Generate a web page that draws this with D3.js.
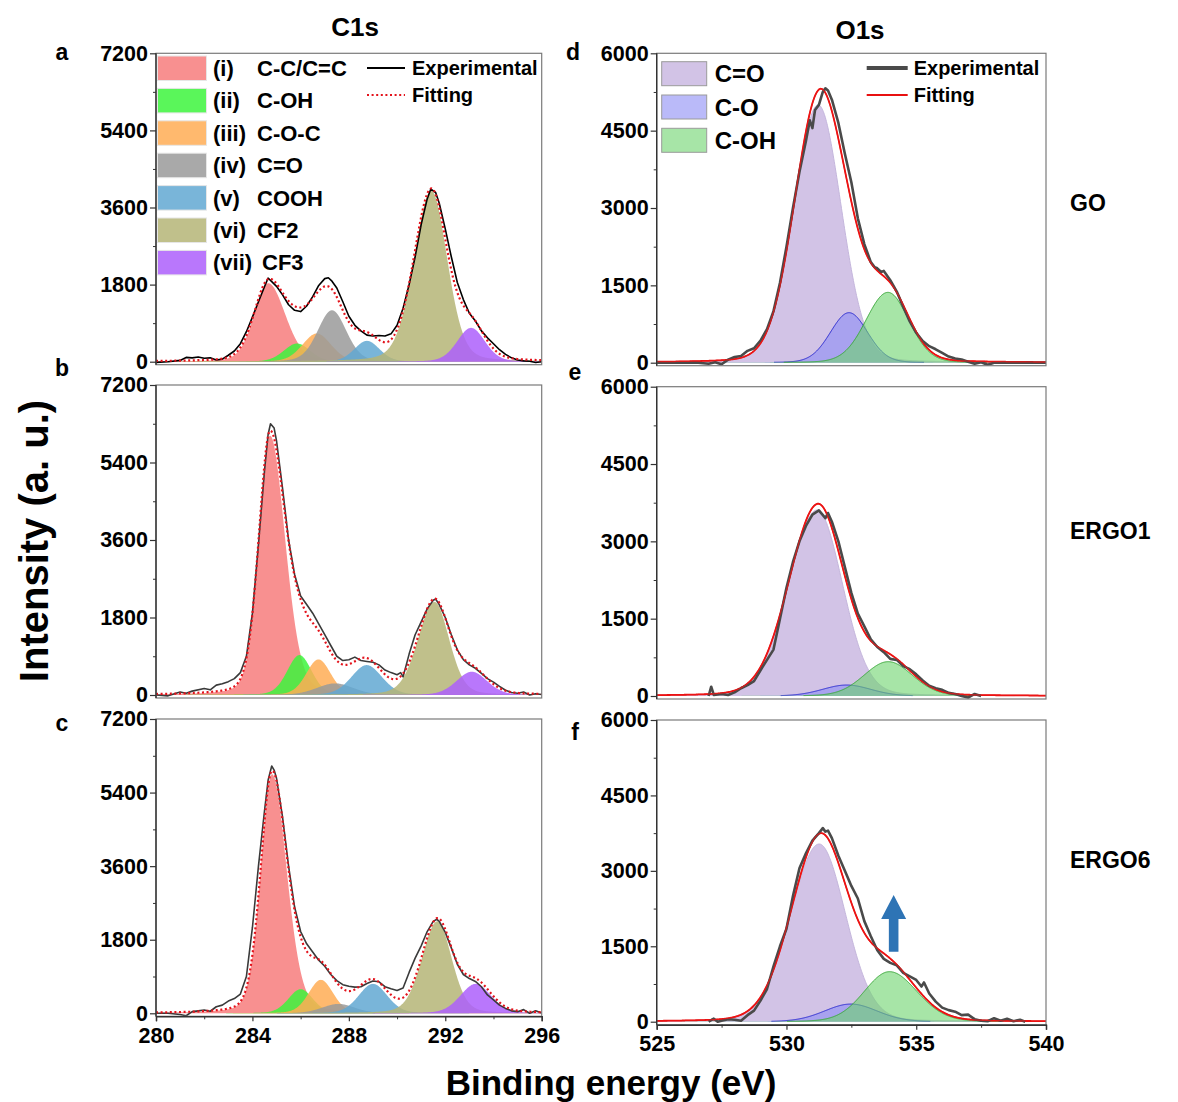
<!DOCTYPE html>
<html><head><meta charset="utf-8">
<script src="https://cdn.jsdelivr.net/npm/d3@7"></script>
<style>
body{margin:0;background:#fff;}
svg{display:block;font-family:'Liberation Sans',Arial,Helvetica,sans-serif;font-weight:bold;}
</style></head><body>
<svg id="fig" width="1178" height="1102"></svg>
<script>
// ---------- categories & ticks ----------
const samples = ['GO', 'ERGO1', 'ERGO6'];
const c1sNumerals = ['(i)', '(ii)', '(iii)', '(iv)', '(v)', '(vi)', '(vii)'];
const c1sLabels = ['C-C/C=C', 'C-OH', 'C-O-C', 'C=O', 'COOH', 'CF2', 'CF3'];
const o1sLabels = ['C=O', 'C-O', 'C-OH'];
const c1sTicksY = [0, 1800, 3600, 5400, 7200];
const o1sTicksY = [0, 1500, 3000, 4500, 6000];
const c1sTicksX = [280, 284, 288, 292, 296];
const o1sTicksX = [525, 530, 535, 540];

// ---------- fitted components: [centre eV, height, left HWHM, right HWHM] ----------
const goC1sPeaks = [
  [284.66, 1830, 0.69, 0.83], [285.85, 425, 0.65, 0.65], [286.67, 660, 0.70, 0.70],
  [287.30, 1200, 0.70, 0.70], [288.75, 487, 0.62, 0.62], [291.42, 3990, 0.85, 0.78],
  [293.07, 790, 0.68, 0.68]];
const ergo1C1sPeaks = [
  [284.73, 6025, 0.55, 0.74], [285.95, 927, 0.60, 0.60], [286.74, 827, 0.60, 0.60],
  [287.43, 270, 0.90, 0.90], [288.74, 695, 0.75, 0.75], [291.55, 2163, 0.80, 0.72],
  [293.10, 540, 0.75, 0.75]];
const ergo6C1sPeaks = [
  [284.81, 5850, 0.55, 0.72], [286.00, 590, 0.60, 0.60], [286.84, 818, 0.60, 0.60],
  [287.57, 229, 0.80, 0.80], [289.00, 720, 0.70, 0.70], [291.67, 2250, 0.75, 0.70],
  [293.26, 720, 0.75, 0.75]];
const goO1sPeaks = [[531.22, 5000, 1.10, 1.05], [532.41, 970, 0.85, 0.85], [533.91, 1364, 1.00, 0.95]];
const ergo1O1sPeaks = [[531.18, 3608, 1.30, 1.15], [532.32, 213, 1.10, 1.10], [533.92, 666, 1.10, 1.10]];
const ergo6O1sPeaks = [[531.26, 3534, 1.30, 1.20], [532.48, 351, 1.20, 1.20], [533.97, 995, 1.15, 1.25]];

// ---------- measured spectra: [eV, counts] ----------
const goC1sExp = [[280,-15],[280.5,0],[281,30],[281.25,100],[281.5,90],[281.75,110],[282,80],[282.25,90],[282.5,40],[282.75,60],[283,150],[283.25,250],[283.5,420],[283.75,700],[284,1040],[284.25,1400],[284.5,1750],[284.65,1950],[284.75,1900],[285,1760],[285.25,1560],[285.5,1330],[285.75,1200],[286,1170],[286.25,1300],[286.5,1520],[286.75,1780],[287,1940],[287.15,1960],[287.3,1880],[287.5,1720],[287.75,1400],[288,1060],[288.25,850],[288.5,720],[288.75,620],[289,600],[289.25,610],[289.5,600],[289.75,650],[290,850],[290.25,1250],[290.5,1800],[290.75,2450],[291,3200],[291.25,3800],[291.4,4030],[291.6,3950],[291.75,3700],[292,3100],[292.25,2450],[292.5,1850],[292.75,1450],[293,1130],[293.25,950],[293.5,720],[293.75,560],[294,420],[294.25,280],[294.5,170],[294.75,90],[295,40],[295.25,20],[295.5,10],[295.75,-20],[296,0]];
const ergo1C1sExp = [[280,0],[280.5,-20],[281,70],[281.25,40],[281.5,90],[282,150],[282.25,120],[282.5,230],[282.75,260],[283,310],[283.25,380],[283.5,520],[283.75,900],[284,1900],[284.25,3500],[284.5,5200],[284.65,6050],[284.75,6300],[284.9,6200],[285,5900],[285.25,4800],[285.5,3600],[285.75,2800],[286,2300],[286.25,2100],[286.5,1900],[286.75,1650],[287,1400],[287.25,1150],[287.5,900],[287.75,800],[288,820],[288.25,880],[288.5,800],[288.75,780],[289,760],[289.25,700],[289.5,580],[289.75,520],[290,470],[290.15,520],[290.25,420],[290.5,950],[290.75,1400],[291,1700],[291.25,2000],[291.5,2200],[291.6,2230],[291.75,2100],[292,1800],[292.25,1400],[292.5,1050],[292.75,820],[293,700],[293.25,620],[293.5,500],[293.75,380],[294,300],[294.25,200],[294.5,110],[294.75,60],[295,40],[295.25,70],[295.5,0],[295.75,30],[296,10]];
const ergo6C1sExp = [[280,0],[280.5,0],[281,-30],[281.25,-60],[281.5,40],[281.75,60],[282,80],[282.25,50],[282.5,160],[282.75,200],[283,300],[283.25,360],[283.5,470],[283.75,900],[284,2100],[284.25,3600],[284.5,4950],[284.65,5700],[284.8,6050],[284.9,5950],[285,5750],[285.25,4800],[285.5,3600],[285.75,2600],[286,2000],[286.25,1700],[286.5,1500],[286.75,1300],[287,1150],[287.25,950],[287.5,800],[287.75,700],[288,660],[288.25,640],[288.5,650],[288.75,730],[289,790],[289.25,770],[289.5,650],[289.75,600],[290,560],[290.25,620],[290.5,1000],[290.75,1350],[291,1650],[291.25,2000],[291.5,2250],[291.65,2300],[291.75,2250],[292,1980],[292.25,1600],[292.5,1200],[292.75,950],[293,850],[293.25,780],[293.5,650],[293.75,450],[294,330],[294.25,200],[294.5,120],[294.75,60],[295,40],[295.25,90],[295.5,0],[295.75,60],[296,10]];
const goO1sExp = [[525,0],[526,0],[526.5,5],[527,-20],[527.25,10],[527.5,-30],[527.75,60],[528,110],[528.25,130],[528.5,230],[528.75,280],[529,430],[529.25,650],[529.5,1000],[529.75,1550],[530,2250],[530.25,3000],[530.5,3700],[530.75,4300],[530.9,4700],[531,4550],[531.1,4900],[531.25,5000],[531.4,5250],[531.5,5320],[531.6,5280],[531.75,5100],[532,4650],[532.25,4050],[532.5,3500],[532.75,2800],[533,2300],[533.25,1950],[533.4,1850],[533.5,1830],[533.65,1760],[533.75,1780],[534,1600],[534.25,1380],[534.5,1080],[534.75,800],[535,580],[535.25,420],[535.5,320],[535.75,260],[536,190],[536.25,120],[536.5,80],[536.75,60],[537,20],[537.25,-20],[537.5,10],[537.75,-40],[538,0],[539,0],[540,0]];
const ergo1O1sExp = [[527,0],[527.1,180],[527.2,20],[527.5,40],[527.75,20],[528,70],[528.25,150],[528.5,210],[528.75,290],[529,500],[529.25,700],[529.5,900],[529.75,1500],[530,2100],[530.25,2600],[530.5,3000],[530.75,3300],[531,3520],[531.25,3600],[531.5,3450],[531.6,3550],[531.75,3380],[532,3000],[532.25,2500],[532.5,2000],[532.75,1600],[533,1350],[533.25,1100],[533.5,950],[533.75,850],[534,720],[534.25,700],[534.5,580],[534.75,520],[535,420],[535.25,300],[535.5,200],[535.75,150],[536,120],[536.25,60],[536.5,40],[536.75,0],[537,-30],[537.25,40],[537.5,0]];
const ergo6O1sExp = [[527,0],[527.2,60],[527.35,0],[527.5,20],[527.75,50],[528,40],[528.25,20],[528.5,130],[528.75,220],[529,420],[529.25,650],[529.5,1100],[529.75,1500],[530,1850],[530.25,2500],[530.5,3050],[530.75,3350],[531,3600],[531.25,3750],[531.4,3850],[531.5,3780],[531.6,3800],[531.75,3650],[532,3300],[532.25,3000],[532.5,2700],[532.75,2450],[533,2000],[533.25,1700],[533.5,1420],[533.75,1250],[534,1170],[534.25,1120],[534.5,970],[534.75,900],[535,830],[535.2,700],[535.3,780],[535.5,560],[535.75,400],[536,280],[536.25,230],[536.5,200],[536.75,130],[537,140],[537.25,50],[537.5,20],[537.75,10],[538,70],[538.25,20],[538.5,60],[538.75,10],[539,40],[539.2,0]];

// ---------- styling ----------
const c1sColors = ['#f77d7d', '#3df53d', '#ffad55', '#9a9a9a', '#62a8d2', '#b5b577', '#ad5ffb'];
const o1sFill = ['#cdbde3', '#8c8cf5', '#6cd46c'];
const o1sStroke = ['#c4b6dc', '#2a2ad0', '#3aa83a'];

const svg = d3.select('#fig');
const FONT_TICK = 21.5;
const FAMILY = "'Liberation Sans',Arial,sans-serif";

// panel frames (pixel layout)
const panels = [
  {key: 'a', kind: 'c1s', peaks: goC1sPeaks,    exp: goC1sExp,    left: 156, right: 541.7, top: 53.3, zero: 361.7, expColor: '#000', legend: true, letterX: 62, letterY: 60},
  {key: 'b', kind: 'c1s', peaks: ergo1C1sPeaks, exp: ergo1C1sExp, left: 156, right: 541.7, top: 385,  zero: 695,   expColor: '#3a3a3a', letterX: 62, letterY: 376},
  {key: 'c', kind: 'c1s', peaks: ergo6C1sPeaks, exp: ergo6C1sExp, left: 156, right: 541.7, top: 719,  zero: 1013.3, expColor: '#3a3a3a', xAxis: true, letterX: 62, letterY: 731},
  {key: 'd', kind: 'o1s', peaks: goO1sPeaks,    exp: goO1sExp,    left: 656.7, right: 1046, top: 53.3, zero: 362.7, legend: true, sample: samples[0], sampleY: 211, letterX: 573, letterY: 60},
  {key: 'e', kind: 'o1s', peaks: ergo1O1sPeaks, exp: ergo1O1sExp, left: 656.7, right: 1046, top: 386.7, zero: 696, sample: samples[1], sampleY: 539, letterX: 575, letterY: 380},
  {key: 'f', kind: 'o1s', peaks: ergo6O1sPeaks, exp: ergo6O1sExp, left: 656.7, right: 1046, top: 720, zero: 1021.7, xAxis: true, sample: samples[2], sampleY: 868, arrow: true, letterX: 575, letterY: 740}
];

// Gaussian–Lorentzian line shape, asymmetric widths
function lineShape(e, p, mix) {
  const [c, h, wl, wr] = p;
  const r = (e - c) / (e < c ? wl : wr);
  return h * ((1 - mix) * Math.exp(-Math.LN2 * r * r) + mix / (1 + r * r));
}

function styleTickText(sel) {
  sel.selectAll('text').attr('font-size', FONT_TICK).attr('font-weight', 'bold')
    .attr('font-family', FAMILY).attr('fill', '#000');
}

panels.forEach(P => {
  const isC = P.kind === 'c1s';
  const xDom = isC ? [280, 296] : [525, 540];
  const yMax = isC ? 7200 : 6000;
  const x = d3.scaleLinear().domain(xDom).range([P.left, P.right]);
  const y = d3.scaleLinear().domain([0, yMax]).range([P.zero, P.top]);
  const bottom = P.zero + 3;
  const mix = isC ? 0.2 : 0.1;
  const g = svg.append('g');

  const clipId = 'clip' + P.key;
  g.append('clipPath').attr('id', clipId).append('rect')
    .attr('x', P.left).attr('y', P.top).attr('width', P.right - P.left).attr('height', bottom - P.top);
  const plot = g.append('g').attr('clip-path', `url(#${clipId})`);

  const grid = d3.range(xDom[0], xDom[1] + 1e-9, 0.02);
  const colors = isC ? c1sColors : o1sFill;

  // component areas
  P.peaks.forEach((p, i) => {
    const pts = grid.map(e => [e, lineShape(e, p, mix)]).filter(d => d[1] > 2);
    plot.append('path').datum(pts)
      .attr('d', d3.area().x(d => x(d[0])).y0(y(0)).y1(d => y(d[1])))
      .attr('fill', colors[i]).attr('fill-opacity', isC ? 0.85 : (i === 0 ? 0.9 : 0.6))
      .attr('stroke', 'none');
    if (!isC) {
      plot.append('path').datum(pts.filter(d => d[1] > 8))
        .attr('d', d3.line().x(d => x(d[0])).y(d => y(d[1])))
        .attr('fill', 'none').attr('stroke', o1sStroke[i]).attr('stroke-width', 1);
    }
  });

  // envelope of the fitted components
  const fit = grid.map(e => [e, d3.sum(P.peaks, p => lineShape(e, p, mix))]);
  const lineGen = d3.line().x(d => x(d[0])).y(d => y(d[1]));

  if (isC) {
    plot.append('path').datum(P.exp).attr('d', lineGen)
      .attr('fill', 'none').attr('stroke', P.expColor).attr('stroke-width', 1.6).attr('stroke-linejoin', 'round');
    plot.append('path').datum(fit).attr('d', lineGen)
      .attr('fill', 'none').attr('stroke', '#e3121b').attr('stroke-width', 2.2)
      .attr('stroke-dasharray', '2,2.6');
  } else {
    plot.append('path').datum(fit).attr('d', lineGen)
      .attr('fill', 'none').attr('stroke', '#e81010').attr('stroke-width', 1.8);
    plot.append('path').datum(P.exp).attr('d', lineGen)
      .attr('fill', 'none').attr('stroke', '#4a4a4a').attr('stroke-width', 2.6).attr('stroke-linejoin', 'round');
    // keep the fitted curve readable above the measured trace
    plot.append('path').datum(fit).attr('d', lineGen)
      .attr('fill', 'none').attr('stroke', '#ee1515').attr('stroke-width', 1.2).attr('stroke-opacity', 0.8);
  }

  // frame
  g.append('rect').attr('x', P.left).attr('y', P.top)
    .attr('width', P.right - P.left).attr('height', bottom - P.top)
    .attr('fill', 'none').attr('stroke', '#7a7a7a').attr('stroke-width', 1.2);
  g.append('line').attr('x1', P.left).attr('x2', P.left).attr('y1', P.top).attr('y2', bottom)
    .attr('stroke', '#333').attr('stroke-width', 1.4);

  // y axis
  const yTicks = isC ? c1sTicksY : o1sTicksY;
  const yMinor = d3.pairs(yTicks).map(([a, b]) => (a + b) / 2);
  const yAx = g.append('g').attr('transform', `translate(${P.left},0)`)
    .call(d3.axisLeft(y).tickValues(yTicks).tickSize(6).tickPadding(2).tickFormat(d3.format('d')));
  g.append('g').attr('transform', `translate(${P.left},0)`)
    .call(d3.axisLeft(y).tickValues(yMinor).tickSize(3).tickFormat(''))
    .call(s => s.select('.domain').remove())
    .selectAll('line').attr('stroke', '#333');
  yAx.select('.domain').remove();
  yAx.selectAll('line').attr('stroke', '#333').attr('stroke-width', 1.2);
  styleTickText(yAx);

  // x axis on the bottom row
  if (P.xAxis) {
    const xTicks = isC ? c1sTicksX : o1sTicksX;
    const xMinor = d3.pairs(xTicks).map(([a, b]) => (a + b) / 2);
    const xAx = g.append('g').attr('transform', `translate(0,${bottom})`)
      .call(d3.axisBottom(x).tickValues(xTicks).tickSize(5).tickPadding(6).tickFormat(d3.format('d')));
    g.append('g').attr('transform', `translate(0,${bottom})`)
      .call(d3.axisBottom(x).tickValues(xMinor).tickSize(3).tickFormat(''))
      .call(s => s.select('.domain').remove())
      .selectAll('line').attr('stroke', '#333');
    xAx.select('.domain').attr('stroke', '#333').attr('stroke-width', 1.4);
    xAx.selectAll('line').attr('stroke', '#333').attr('stroke-width', 1.2);
    styleTickText(xAx);
  }

  // panel letter
  g.append('text').attr('x', P.letterX).attr('y', P.letterY)
    .attr('text-anchor', 'middle').attr('font-size', 23).text(P.key);

  // sample name on the right
  if (P.sample) {
    g.append('text').attr('x', 1070).attr('y', P.sampleY).attr('font-size', 23).text(P.sample);
  }

  // legends in the top row
  if (P.legend && isC) {
    const lg = g.append('g');
    c1sLabels.forEach((lab, i) => {
      const yy = 56 + i * 32.4;
      lg.append('rect').attr('x', P.left + 1.5).attr('y', yy).attr('width', 49).attr('height', 24.5)
        .attr('fill', c1sColors[i]).attr('fill-opacity', 0.85).attr('stroke', '#e6e6e6').attr('stroke-width', 1);
      lg.append('text').attr('x', P.left + 57).attr('y', yy + 20).attr('font-size', 22).text(c1sNumerals[i]);
      lg.append('text').attr('x', P.left + (i === 6 ? 106 : 101)).attr('y', yy + 20).attr('font-size', 22).text(lab);
    });
    lg.append('line').attr('x1', P.left + 211).attr('x2', P.left + 249).attr('y1', 68).attr('y2', 68)
      .attr('stroke', '#000').attr('stroke-width', 1.8);
    lg.append('line').attr('x1', P.left + 211).attr('x2', P.left + 249).attr('y1', 95).attr('y2', 95)
      .attr('stroke', '#e3121b').attr('stroke-width', 2.2).attr('stroke-dasharray', '2,2.6');
    lg.append('text').attr('x', P.left + 256).attr('y', 75).attr('font-size', 20).text('Experimental');
    lg.append('text').attr('x', P.left + 256).attr('y', 102).attr('font-size', 20).text('Fitting');
  }
  if (P.legend && !isC) {
    const lg = g.append('g');
    o1sLabels.forEach((lab, i) => {
      const yy = 61.7 + i * 33.3;
      lg.append('rect').attr('x', P.left + 5).attr('y', yy).attr('width', 45).attr('height', 24)
        .attr('fill', o1sFill[i]).attr('fill-opacity', i === 0 ? 0.9 : 0.6)
        .attr('stroke', '#9a9a9a').attr('stroke-width', 1);
      lg.append('text').attr('x', P.left + 58).attr('y', yy + 20.5).attr('font-size', 24).text(lab);
    });
    lg.append('line').attr('x1', P.left + 210).attr('x2', P.left + 251).attr('y1', 68).attr('y2', 68)
      .attr('stroke', '#4a4a4a').attr('stroke-width', 4);
    lg.append('line').attr('x1', P.left + 210).attr('x2', P.left + 251).attr('y1', 95).attr('y2', 95)
      .attr('stroke', '#e81010').attr('stroke-width', 2);
    lg.append('text').attr('x', P.left + 257).attr('y', 75).attr('font-size', 20).text('Experimental');
    lg.append('text').attr('x', P.left + 257).attr('y', 102).attr('font-size', 20).text('Fitting');
  }

  // upward arrow marking the growth of the C-OH component
  if (P.arrow) {
    const ax = x(534.13), tip = y(2520), base = y(2044), tail = y(1392);
    const hw = 12.5, sw = 4.8;
    g.append('path')
      .attr('d', `M${ax},${tip} L${ax + hw},${base} L${ax + sw},${base} L${ax + sw},${tail} L${ax - sw},${tail} L${ax - sw},${base} L${ax - hw},${base} Z`)
      .attr('fill', '#2e74b5');
  }
});

// column titles
svg.append('text').attr('x', 355).attr('y', 36).attr('text-anchor', 'middle').attr('font-size', 26).text('C1s');
svg.append('text').attr('x', 860).attr('y', 39).attr('text-anchor', 'middle').attr('font-size', 26).text('O1s');

// axis titles
svg.append('text').attr('transform', 'translate(48,541) rotate(-90)')
  .attr('text-anchor', 'middle').attr('font-size', 40).text('Intensity (a. u.)');
svg.append('text').attr('x', 611).attr('y', 1095).attr('text-anchor', 'middle')
  .attr('font-size', 35).text('Binding energy (eV)');
</script>
</body></html>
